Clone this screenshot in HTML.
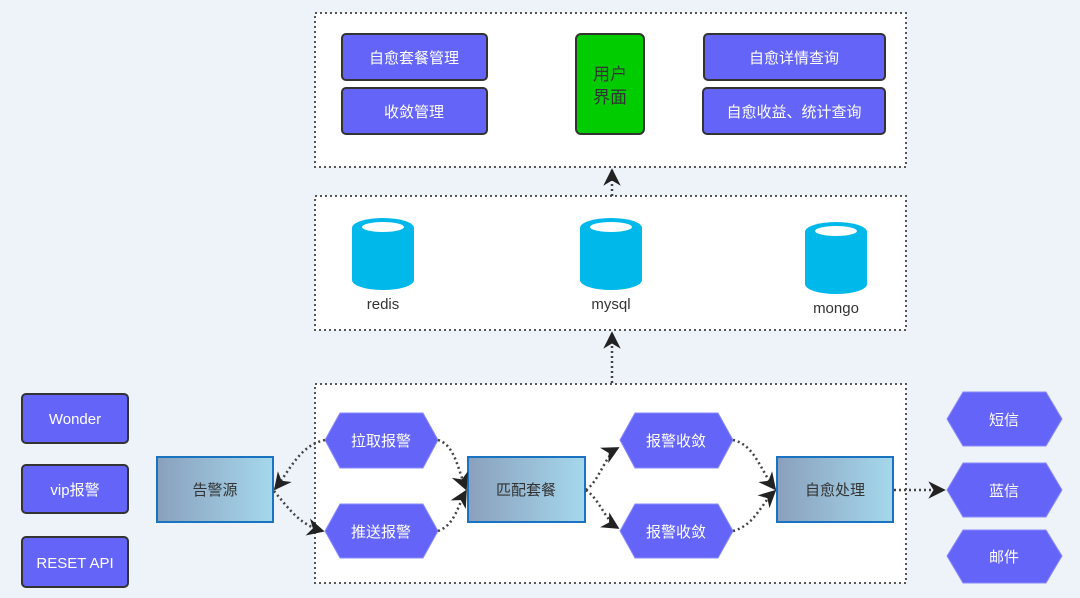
<!DOCTYPE html>
<html><head><meta charset="utf-8"><style>
html,body{margin:0;padding:0;background:#eef3f9;}
svg{display:block;font-family:"Liberation Sans","Noto Sans CJK SC",sans-serif;}
</style></head><body>
<svg width="1080" height="598" viewBox="0 0 1080 598" xmlns="http://www.w3.org/2000/svg">
<defs>
<linearGradient id="g" x1="0" x2="1" y1="0" y2="0"><stop offset="0" stop-color="#8aa0bd"/><stop offset="1" stop-color="#a5d8ec"/></linearGradient>
<marker id="a" viewBox="0 0 10 10" refX="9" refY="5" markerWidth="7" markerHeight="7" orient="auto-start-reverse"><path d="M0,0 L10,5 L0,10 L3,5 z" fill="#222"/></marker>
</defs>
<rect width="1080" height="598" fill="#eef3f9"/>
<g fill="#fff" stroke="#555" stroke-width="2" stroke-dasharray="2,3">
<rect x="315" y="13" width="591" height="154"/>
<rect x="315" y="196" width="591" height="134"/>
<rect x="315" y="384" width="591" height="199"/>
</g>
<g fill="#6464f8" stroke="#333" stroke-width="2">
<rect x="342" y="34" width="145" height="46" rx="4"/>
<rect x="342" y="88" width="145" height="46" rx="4"/>
<rect x="704" y="34" width="181" height="46" rx="4"/>
<rect x="703" y="88" width="182" height="46" rx="4"/>
<rect x="22" y="394" width="106" height="49" rx="4"/>
<rect x="22" y="465" width="106" height="48" rx="4"/>
<rect x="22" y="537" width="106" height="50" rx="4"/>
</g>
<rect x="576" y="34" width="68" height="100" rx="5" fill="#0c0" stroke="#333" stroke-width="2"/>
<g fill="#fff" font-size="15" text-anchor="middle">
<text x="414" y="63">自愈套餐管理</text>
<text x="414" y="117">收敛管理</text>
<text x="794" y="63">自愈详情查询</text>
<text x="794" y="117">自愈收益、统计查询</text>
<text x="75" y="424">Wonder</text>
<text x="75" y="495">vip报警</text>
<text x="75" y="568">RESET API</text>
</g>
<g fill="#333" font-size="17" text-anchor="middle"><text x="610" y="80">用户</text><text x="610" y="103">界面</text></g>
<g fill="#00b8ea">
<path d="M352,228 v52 a31,10 0 0 0 62,0 v-52 z"/><ellipse cx="383" cy="228" rx="31" ry="10"/>
<path d="M580,228 v52 a31,10 0 0 0 62,0 v-52 z"/><ellipse cx="611" cy="228" rx="31" ry="10"/>
<path d="M805,232 v52 a31,10 0 0 0 62,0 v-52 z"/><ellipse cx="836" cy="232" rx="31" ry="10"/>
</g>
<g fill="#fff"><ellipse cx="383" cy="227" rx="21" ry="5"/><ellipse cx="611" cy="227" rx="21" ry="5"/><ellipse cx="836" cy="231" rx="21" ry="5"/></g>
<g fill="#333" font-size="15" text-anchor="middle"><text x="383" y="309">redis</text><text x="611" y="309">mysql</text><text x="836" y="313">mongo</text></g>
<g fill="url(#g)" stroke="#1a73c0" stroke-width="2">
<rect x="157" y="457" width="116" height="65"/>
<rect x="468" y="457" width="117" height="65"/>
<rect x="777" y="457" width="116" height="65"/>
</g>
<g fill="#333" font-size="15" text-anchor="middle"><text x="215" y="495">告警源</text><text x="526" y="495">匹配套餐</text><text x="835" y="495">自愈处理</text></g>
<g fill="#6464f8" stroke="#8a8afc" stroke-width="1">
<path d="M325,440 l15,-27 h83 l15,27 l-15,28 h-83 z"/>
<path d="M325,531 l15,-27 h83 l15,27 l-15,27 h-83 z"/>
<path d="M620,440 l15,-27 h83 l15,27 l-15,28 h-83 z"/>
<path d="M620,531 l15,-27 h83 l15,27 l-15,27 h-83 z"/>
<path d="M947,419 l16,-27 h83 l16,27 l-16,27 h-83 z"/>
<path d="M947,490 l16,-27 h83 l16,27 l-16,27 h-83 z"/>
<path d="M947,556 l16,-26 h83 l16,26 l-16,27 h-83 z"/>
</g>
<g fill="#fff" font-size="15" text-anchor="middle">
<text x="381" y="446">拉取报警</text><text x="381" y="537">推送报警</text>
<text x="676" y="446">报警收敛</text><text x="676" y="537">报警收敛</text>
<text x="1004" y="425">短信</text><text x="1004" y="496">蓝信</text><text x="1004" y="562">邮件</text>
</g>
<g fill="none" stroke="#444" stroke-width="2.5" stroke-dasharray="2,3">
<path d="M325,440 C300,445 290,470 275,489" marker-end="url(#a)"/>
<path d="M274,491 C290,510 300,525 323,531" marker-end="url(#a)"/>
<path d="M438,440 C455,445 458,470 466,489" marker-end="url(#a)"/>
<path d="M438,531 C455,525 458,505 466,491" marker-end="url(#a)"/>
<path d="M586,490 C600,480 605,455 618,448" marker-end="url(#a)"/>
<path d="M586,490 C600,500 605,520 618,528" marker-end="url(#a)"/>
<path d="M733,440 C755,445 760,470 775,489" marker-end="url(#a)"/>
<path d="M733,531 C755,525 760,505 775,491" marker-end="url(#a)"/>
<path d="M894,490 L944,490" marker-end="url(#a)"/>
<path d="M612,383 L612,333" marker-end="url(#a)"/>
<path d="M612,196 L612,170" marker-end="url(#a)"/>
</g>
</svg>
</body></html>
